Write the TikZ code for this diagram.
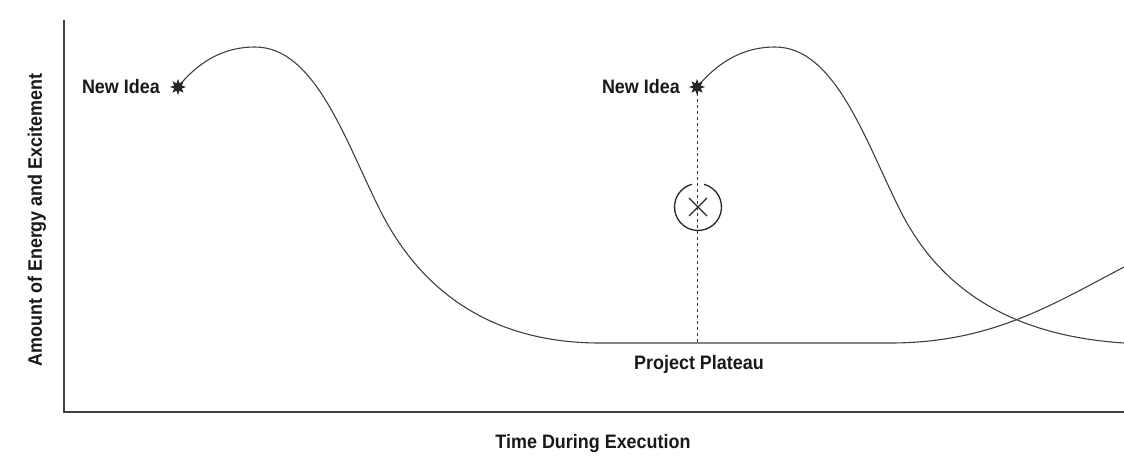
\documentclass[tikz,border=0pt]{standalone}
\usepackage{fontspec}
\setmainfont[FakeStretch=0.92]{Liberation Sans}
\usetikzlibrary{shapes.geometric}
\begin{document}
\begin{tikzpicture}[x=1pt,y=-1pt,
  lbl/.style={font=\fontsize{19.5}{22}\selectfont\bfseries, text=black!90, inner sep=0pt},
  burst/.style={star, star points=8, star point ratio=2.0, minimum size=16pt, inner sep=0pt, fill=black!85, draw=none},
  curve/.style={draw=black!75, line width=1.1pt},
  axis/.style={draw=black!75, line width=1.5pt}]
\useasboundingbox (0,0) rectangle (1124,464);
% axes
\coordinate (top) at (64,20);
\coordinate (origin) at (64,412);
\coordinate (right) at (1124,412);
\draw[axis] (top) -- (origin) -- (right);
% curves
\draw[curve] (178,87) .. controls (200,60) and (225,47) .. (255,47)
  .. controls (315,47) and (345,140) .. (380,210)
  .. controls (415,280) and (480,343) .. (600,343)
  -- (890,343) .. controls (990,343) and (1050,306) .. (1124,267);
\draw[curve] (697,87) .. controls (720,60) and (745,47) .. (775,47)
  .. controls (835,47) and (865,140) .. (900,210)
  .. controls (935,280) and (1000,335) .. (1124,343);
% stars
\node[burst] (s1) at (178,87) {};
\node[burst] (s2) at (697,87) {};
\node[lbl, anchor=east] (n1) at (160,87) {New Idea};
\node[lbl, anchor=east] (n2) at (680,87) {New Idea};
% dashed
\coordinate (plat) at (697,343);
\draw[black!80, line width=1pt, dash pattern=on 3pt off 3pt] (s2.center) -- (plat);
% circle with X
\coordinate (cx) at (698,207);
\draw[black!85, line width=1.3pt] (cx) ++(-75:23.5) arc[start angle=-75, end angle=255, radius=23.5];
\draw[black!85, line width=1.2pt] (689,198) -- (707,216) (707,198) -- (689,216);
% labels
\node[lbl] (pp) at (699,364) {Project Plateau};
\node[lbl] (tx) at (593,443) {Time During Execution};
\node[lbl, rotate=90] (ty) at (37,220) {Amount of Energy and Excitement};
\end{tikzpicture}
\end{document}
